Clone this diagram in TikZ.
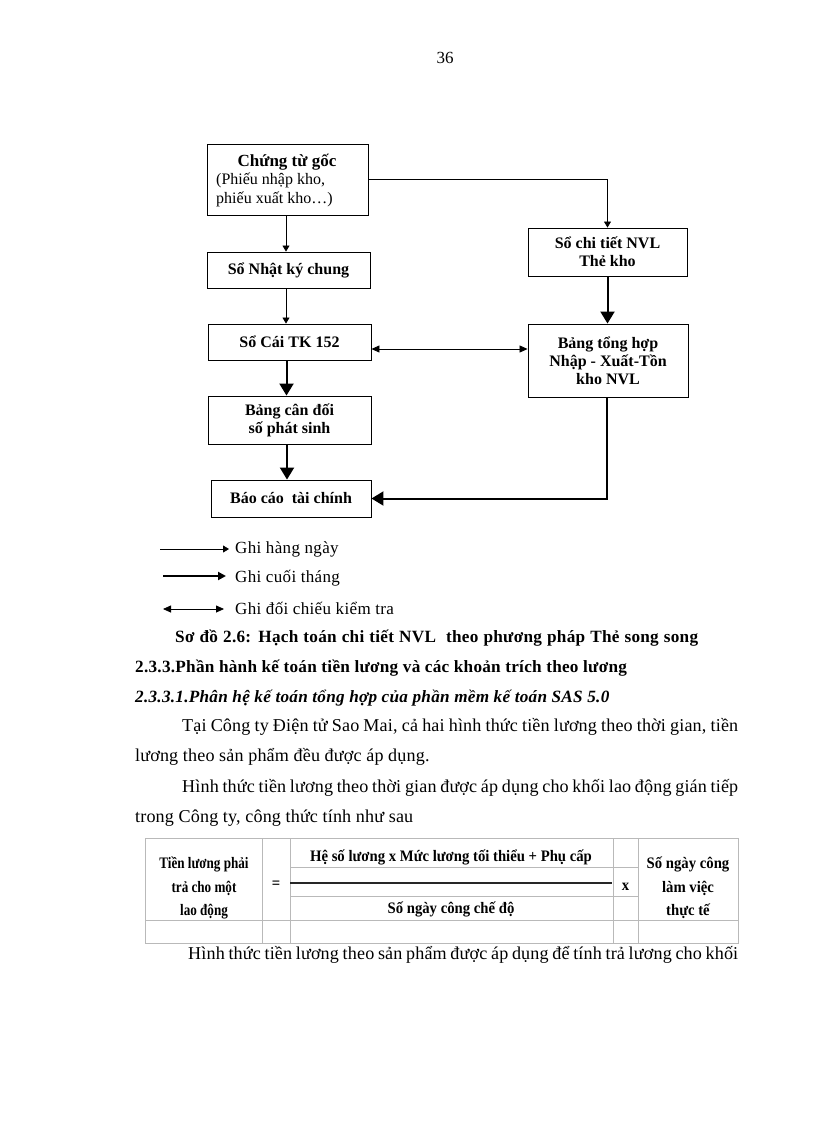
\documentclass[tikz,border=0pt]{standalone}
\usepackage{fontspec}
\setmainfont{Liberation Serif}
\newfontfamily\bodyfont[LetterSpace=0.8]{Liberation Serif}
\newfontfamily\headfont[LetterSpace=1.5]{Liberation Serif}
\newfontfamily\legfont[LetterSpace=2]{Liberation Serif}
\newfontfamily\tabfont[FakeStretch=0.92]{Liberation Serif}
\newfontfamily\tabfontc[FakeStretch=0.82]{Liberation Serif}
\usetikzlibrary{arrows.meta}
\newcommand\szn{\fontsize{16}{18}\selectfont}
\newcommand\szb{\fontsize{18.1}{22}\selectfont}
\newcommand\szh{\fontsize{17.2}{20}\selectfont}
\newcommand\szl{\fontsize{17}{20}\selectfont}
\newcommand\szt{\fontsize{16}{23.5}\selectfont}
\begin{document}
\begin{tikzpicture}[x=1pt,y=-1pt,
  box/.style={draw, line width=0.9pt, font=\szn\bfseries, align=center, inner sep=0pt},
  thinarrow/.style={line width=0.8pt, -{Triangle[length=6pt,width=7pt]}},
  thickarrow/.style={line width=2pt, -{Triangle[length=12pt,width=14pt]}},
  legthick/.style={line width=2pt, -{Triangle[length=8pt,width=8pt]}},
  dblarrow/.style={line width=0.8pt, {Triangle[length=8pt,width=7pt]}-{Triangle[length=8pt,width=7pt]}},
  txt/.style={inner sep=0pt, anchor=west, font=\szn},
  body/.style={inner sep=0pt, anchor=west, font=\bodyfont\szb},
  head/.style={inner sep=0pt, anchor=west, font=\headfont\szh\bfseries},
  leg/.style={inner sep=0pt, anchor=west, font=\legfont\szl},
  tcell/.style={font=\szt\tabfont\bfseries, align=center, inner sep=0pt},
  tcellc/.style={font=\szt\tabfontc\bfseries, align=center, inner sep=0pt},
  gridline/.style={draw=gray!55, line width=1pt}
]
\useasboundingbox[fill=white] (0,0) rectangle (816,1123);

% page number
\node[font=\fontsize{17}{20}\selectfont, inner sep=0pt] (pg) at (445,58) {36};

% boxes
\node[box, minimum width=161pt, minimum height=71pt] (b1) at (287.5,179.5) {};
\node[inner sep=0pt, font=\fontsize{17}{20}\selectfont\bfseries] (b1t) at (287,162) {Chứng từ gốc};
\node[txt] (b1a) at (216,180) {(Phiếu nhập kho,};
\node[txt] (b1b) at (216,199) {phiếu xuất kho…)};

\node[box, minimum width=163pt, minimum height=36pt] (nkc) at (288.5,270) {Sổ Nhật ký chung};
\node[box, minimum width=163pt, minimum height=36pt] (socai) at (289.5,342) {Sổ Cái TK 152};
\node[box, minimum width=163pt, minimum height=48pt] (bcd) at (289.5,420) {Bảng cân đối\\số phát sinh};
\node[box, minimum width=160pt, minimum height=37pt] (bctc) at (291,498.5) {Báo cáo\ \ tài chính};
\node[box, minimum width=159pt, minimum height=48pt] (sct) at (607.5,252) {Sổ chi tiết NVL\\Thẻ kho};
\node[box, minimum width=160pt, minimum height=73pt] (bth) at (608,360.5) {Bảng tổng hợp\\Nhập - Xuất-Tồn\\kho NVL};

% connectors
\draw[thinarrow] (b1.east) -| (sct.north);
\draw[thinarrow] ([xshift=-1.5pt]b1.south) -- ([xshift=-1.5pt]b1.south |- nkc.north);
\draw[thinarrow] ([xshift=-2.5pt]nkc.south) -- ([xshift=-2.5pt]nkc.south |- socai.north);
\draw[thickarrow] ([xshift=-3pt]socai.south) -- ([xshift=-3pt]socai.south |- bcd.north);
\draw[thickarrow] ([xshift=-2.5pt]bcd.south) -- ([xshift=-2.5pt]bcd.south |- bctc.north);
\draw[thickarrow] (sct.south) -- (sct.south |- bth.north);
\draw[dblarrow] ([yshift=-7pt]socai.east) coordinate (dA) -- (dA -| bth.west);
\draw[thickarrow] ([xshift=-1pt]bth.south) |- (bctc.east);

% legend
\coordinate (l1a) at (160,549); \coordinate (l1b) at (229,549);
\coordinate (l2a) at (163,576); \coordinate (l2b) at (226,576);
\coordinate (l3a) at (163,609); \coordinate (l3b) at (224,609);
\draw[thinarrow] (l1a) -- (l1b);
\draw[legthick] (l2a) -- (l2b);
\draw[dblarrow] (l3a) -- (l3b);
\node[leg] (g1) at (235,549) {Ghi\ hàng\ ngày};
\node[leg] (g2) at (235,578) {Ghi\ cuối tháng};
\node[leg] (g3) at (235,608) {Ghi\ đối chiếu kiểm tra};

% caption and headings
\node[head] (cap) at (175,638) {\makebox[523pt][s]{Sơ đồ 2.6: Hạch toán chi tiết NVL\ \ theo phương\ pháp\ Thẻ\ song song}};
\node[head] (h2) at (135,668) {2.3.3.Phần hành kế toán tiền lương và các khoản trích theo lương};
\node[head, font=\headfont\szh\bfseries\itshape] (h3) at (135,698) {2.3.3.1.Phân hệ kế toán tổng hợp của phần mềm kế toán SAS 5.0};

% paragraphs
\node[body] (p1) at (182,727) {\makebox[556pt][s]{Tại Công ty Điện tử Sao Mai, cả hai hình thức tiền lương theo thời gian, tiền}};
\node[body] (p2) at (135,757) {lương theo sản phẩm đều được áp dụng.};
\node[body] (p3) at (182,788) {\makebox[556pt][s]{Hình thức tiền lương theo thời gian được áp dụng cho khối lao động gián tiếp}};
\node[body] (p4) at (135,818) {trong Công ty, công thức tính như sau};
\node[body] (p5) at (188,955) {\makebox[550pt][s]{Hình thức tiền lương theo sản phẩm được áp dụng để tính trả lương cho khối}};

% table grid
\draw[gridline] (145,838) rectangle (738,943);
\foreach \xx in {262,290,613,638} \draw[gridline] (\xx,838) -- (\xx,943);
\draw[gridline] (145,920) -- (738,920);
\draw[gridline] (290,867) -- (638,867);
\draw[gridline] (290,896) -- (638,896);
\draw[line width=1.5pt, gray!30!black] (290,883) -- (612,883);

% table text
\node[tcellc] (c1) at (204,888) {Tiền lương phải\\trả cho một\\lao động};
\node[tcell] (c2) at (276,885) {=};
\node[tcell] (c3) at (451,857) {Hệ số lương x Mức lương tối thiểu + Phụ cấp};
\node[tcell] (c4) at (451,909) {Số ngày công chế độ};
\node[tcell] (c5) at (625.5,887) {x};
\node[tcell] (c6) at (688,888) {Số ngày công\\làm việc\\thực tế};
\end{tikzpicture}
\end{document}
